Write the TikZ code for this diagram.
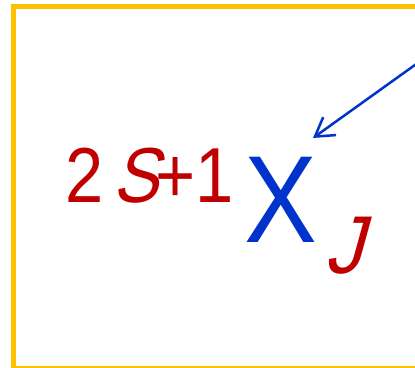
\documentclass[tikz,border=0pt]{standalone}
\usepackage{fontspec}
\setmainfont{Liberation Sans}
\newfontfamily\slantsans{Liberation Sans}[FakeSlant=0.3]
\usepackage{tikz}
\usetikzlibrary{arrows.meta}
\definecolor{termRed}{RGB}{192,0,0}
\definecolor{termBlue}{RGB}{0,51,204}
\definecolor{frameGold}{RGB}{255,192,0}

\begin{document}
\begin{tikzpicture}[x=1pt, y=-1pt,
    sym/.style={inner sep=0pt, anchor=base west, xscale=0.88},
    mult/.style={sym, text=termRed, font=\fontsize{78}{78}\selectfont},
    letter/.style={sym, text=termBlue, font=\fontsize{124}{124}\selectfont}]
  \useasboundingbox (0,0) rectangle (415,367);
  \clip (0,0) rectangle (415,367);
  % frame
  \draw[frameGold, line width=4.5pt] (13.5,6.3) rectangle (440,368);
  % term symbol
  \node[mult] (two) at (65,202) {2};
  \node[mult, font=\slantsans\fontsize{78}{78}\selectfont] (spin) at (112,202) {S};
  \node[mult] (plusone) at (155,202) {+1};
  \node[letter] (ex) at (244,242) {X};
  \node[mult, xscale=1.05, font=\slantsans\fontsize{82}{82}\selectfont] (jay) at (324,273) {J};
  % pointer
  \coordinate (from) at (440,47);
  \coordinate (tip) at (313,138);
  \draw[-{Straight Barb[length=18pt, width=22pt]}, termBlue, line width=2.5pt] (from) -- (tip);
\end{tikzpicture}
\end{document}
